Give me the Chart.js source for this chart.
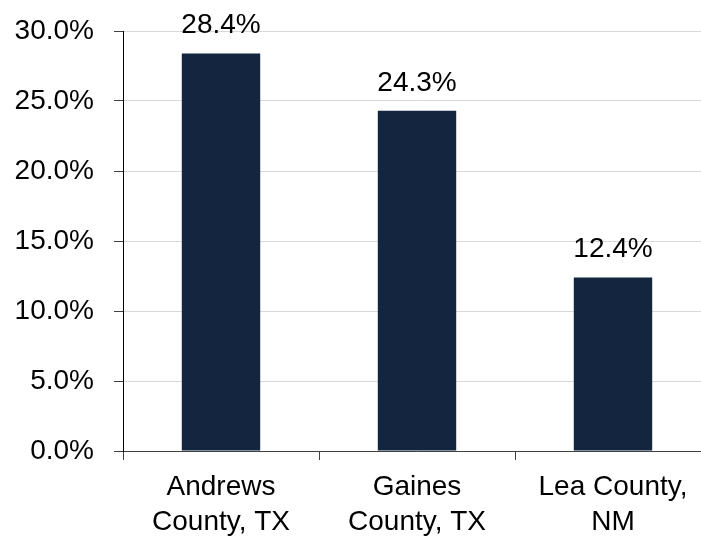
<!DOCTYPE html>
<html>
<head>
<meta charset="utf-8">
<script src="https://cdn.jsdelivr.net/npm/chart.js@4"></script>
<style>
html,body{margin:0;padding:0;background:#fff;overflow:hidden;width:701px;height:538px;}
#wrap{position:absolute;left:0;top:0;width:711px;height:538px;}
</style>
</head>
<body>
<div id="wrap"><canvas id="c" width="711" height="538"></canvas></div>
<script>
const categories = [["Andrews", "County, TX"], ["Gaines", "County, TX"], ["Lea County,", "NM"]];
const shareValues = [28.4, 24.3, 12.4];
const yTickValues = [0, 5, 10, 15, 20, 25, 30];

const FONT = "'Liberation Sans', Arial, sans-serif";

const valueLabels = {
  id: 'valueLabels',
  afterDatasetsDraw(chart) {
    const ctx = chart.ctx;
    const meta = chart.getDatasetMeta(0);
    ctx.save();
    ctx.font = "28px " + FONT;
    ctx.fillStyle = "#000";
    ctx.textAlign = "center";
    ctx.textBaseline = "alphabetic";
    meta.data.forEach((bar, i) => {
      ctx.fillText(shareValues[i].toFixed(1) + "%", bar.x, bar.y - 20);
    });
    ctx.restore();
  }
};

new Chart(document.getElementById('c'), {
  type: 'bar',
  data: {
    labels: categories,
    datasets: [{
      data: shareValues,
      backgroundColor: '#13253f',
      barPercentage: 0.4,
      categoryPercentage: 1.0
    }]
  },
  options: {
    responsive: false,
    animation: false,
    devicePixelRatio: 1,
    layout: { padding: { top: 31, right: 0, bottom: 0, left: 0 } },
    plugins: { legend: { display: false }, tooltip: { enabled: false } },
    scales: {
      x: {
        afterFit(scale) { scale.height = 87; scale.paddingLeft = 0; scale.paddingRight = 0; },
        grid: { drawOnChartArea: false, tickLength: 9, tickColor: '#404040', offset: true },
        border: { color: '#404040', width: 1 },
        ticks: { color: '#000', font: { family: FONT, size: 28, lineHeight: 1.25 }, padding: 10, maxRotation: 0, autoSkip: false }
      },
      y: {
        min: 0, max: 30,
        afterBuildTicks(scale) { scale.ticks = yTickValues.map(v => ({ value: v })); },
        afterFit(scale) { scale.width = 123; scale.paddingTop = 0; scale.paddingBottom = 0; },
        grid: { color: '#d9d9d9', tickLength: 9, tickColor: '#404040' },
        border: { color: '#000', width: 1 },
        ticks: {
          color: '#000', font: { family: FONT, size: 28 }, padding: 20,
          callback: v => v.toFixed(1) + '%'
        }
      }
    }
  },
  plugins: [valueLabels]
});
</script>
</body>
</html>
